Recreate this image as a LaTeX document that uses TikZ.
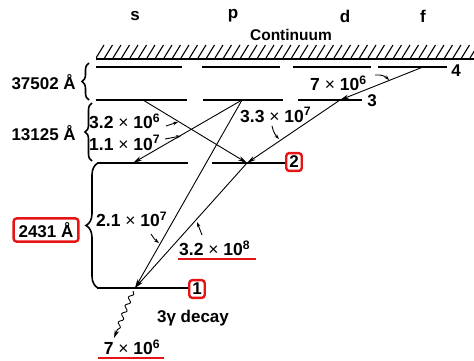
\documentclass[tikz,border=0pt]{standalone}
\usepackage{fontspec}
\setmainfont{Liberation Sans}
\usetikzlibrary{arrows.meta,decorations.pathmorphing,decorations.pathreplacing}
\definecolor{boxred}{RGB}{230,20,20}
\newcommand{\tms}{{\mdseries\ ×\ }}
\begin{document}
\begin{tikzpicture}[x=1pt,y=-1pt,
  every node/.style={font=\fontsize{17}{20}\selectfont\bfseries, inner sep=0pt},
  rate/.style={font=\fontsize{17.5}{20}\selectfont\bfseries},
  level/.style={line width=1.8pt},
  trans/.style={line width=0.9pt,-{Stealth[length=9pt,width=4.5pt]}},
  pointer/.style={line width=0.9pt,-{Stealth[length=5pt,width=3.5pt]}},
  redbox/.style={draw=boxred, line width=2.4pt, rounded corners=3pt, inner sep=3pt, fill=white},
  redline/.style={draw=boxred, line width=2.2pt},
  bracedeco/.style={decorate, line width=1.6pt}
]
\useasboundingbox (0,0) rectangle (474,360);

% column labels
\node (cs) at (135,16) {s};
\node (cp) at (233,16) {p};
\node (cd) at (345,16) {d};
\node (cf) at (423,16) {f};
\node[font=\fontsize{15.5}{18}\selectfont\bfseries] (cont) at (291,35) {Continuum};

% continuum hatch
\begin{scope}
\clip (96,42) rectangle (474,60);
\foreach \hx in {96,104.5,...,480} {
  \draw[line width=1.1pt] (\hx,58) -- (\hx+8,45);
}
\end{scope}
\coordinate (hl) at (96,59);
\coordinate (hr) at (474,59);
\draw[line width=2pt] (hl) -- (hr);

% levels n=4
\coordinate (s4a) at (96,67); \coordinate (s4b) at (182,67);
\coordinate (p4a) at (202,67); \coordinate (p4b) at (280,67);
\coordinate (d4a) at (293,67); \coordinate (d4b) at (371,67);
\coordinate (f4a) at (378,67); \coordinate (f4b) at (447,67);
\draw[level] (s4a) -- (s4b);
\draw[level] (p4a) -- (p4b);
\draw[level] (d4a) -- (d4b);
\draw[level] (f4a) -- (f4b);
\node (n4) at (456,71) {4};

% levels n=3
\coordinate (s3a) at (96,100); \coordinate (s3b) at (187,100);
\coordinate (p3a) at (203,100); \coordinate (p3b) at (283,100);
\coordinate (d3a) at (298,100); \coordinate (d3b) at (362,100);
\draw[level] (s3a) -- (s3b);
\draw[level] (p3a) -- (p3b);
\draw[level] (d3a) -- (d3b);
\node (n3) at (372,101) {3};

% levels n=2
\coordinate (s2a) at (97,163); \coordinate (s2b) at (188,163);
\coordinate (p2a) at (212,163); \coordinate (p2b) at (286,163);
\draw[level] (s2a) -- (s2b);
\draw[level] (p2a) -- (p2b);
\node[redbox] (n2) at (294,162) {2};

% level n=1
\coordinate (s1a) at (97,288); \coordinate (s1b) at (189,288);
\draw[level] (s1a) -- (s1b);
\node[redbox] (n1) at (197,289) {1};

% braces
\coordinate (b1a) at (89,100); \coordinate (b1b) at (89,63);
\draw[bracedeco, decoration={brace, amplitude=7pt}] (b1a) -- (b1b);
\coordinate (b2a) at (92,161); \coordinate (b2b) at (92,103);
\draw[bracedeco, decoration={brace, amplitude=7pt}] (b2a) -- (b2b);
\coordinate (b3a) at (98,288); \coordinate (b3b) at (98,163);
\draw[bracedeco, decoration={brace, amplitude=12pt}] (b3a) -- (b3b);

\node[anchor=east] (w1) at (76,82) {37502 Å};
\node[anchor=east] (w2) at (76,133) {13125 Å};
\node[redbox, inner xsep=5pt, inner ysep=4pt] (w3) at (46,230) {2431 Å};

% transition points
\coordinate (s3) at (143,100);
\coordinate (p3) at (242,100);
\coordinate (s2) at (133,163);
\coordinate (p2) at (247,163);
\coordinate (s1) at (135,288);
\coordinate (f4) at (423,67);
\coordinate (d3) at (340,100);
\coordinate (w) at (114,338);
\coordinate (s1w) at (133,291);

\draw[trans] (s3) -- (p2);
\draw[trans] (p3) -- (s2);
\draw[trans] (p3) -- (s1);
\draw[trans] (f4) -- (d3);
\draw[trans] (d3) -- (p2);
\draw[trans] (p2) -- (s1);
\draw[line width=0.9pt,-{Stealth[length=8pt,width=4.5pt]}, decorate,
  decoration={snake, amplitude=2pt, segment length=9pt, post length=9pt}] (s1w) -- (w);

% rate labels
\node[rate, anchor=west] (r1) at (89,121) {3.2\tms 10\textsuperscript{6}};
\node[rate, anchor=west] (r2) at (89,143) {1.1\tms 10\textsuperscript{7}};
\coordinate (r1t) at (166,126); \coordinate (r1h) at (178,122);
\draw[pointer] (r1t) -- (r1h);
\coordinate (r2t) at (165,139); \coordinate (r2h) at (181,136);
\draw[pointer] (r2t) -- (r2h);

\node[rate, anchor=west] (r3) at (240,115) {3.3\tms 10\textsuperscript{7}};
\coordinate (r3t) at (272,126); \coordinate (r3h) at (279,139);
\draw[pointer] (r3t) to[bend right=15] (r3h);

\node[rate, anchor=west] (r4) at (310,83) {7\tms 10\textsuperscript{6}};
\coordinate (r4t) at (375,75); \coordinate (r4h) at (389,80);
\draw[pointer] (r4t) to[bend left=25] (r4h);

\node[rate, anchor=west] (r5) at (96,219) {2.1\tms 10\textsuperscript{7}};
\coordinate (r5t) at (151,234); \coordinate (r5h) at (159,243);
\draw[pointer] (r5t) to[bend right=10] (r5h);

\node[rate, anchor=west] (r6) at (179,248) {3.2\tms 10\textsuperscript{8}};
\coordinate (r6t) at (202,235); \coordinate (r6h) at (197,222);
\draw[pointer] (r6t) -- (r6h);
\coordinate (u1a) at (178,259); \coordinate (u1b) at (256,259);
\draw[redline] (u1a) -- (u1b);

\node (dec) at (193,318) {3γ decay};
\node[rate] (r7) at (132,347) {7\tms 10\textsuperscript{6}};
\coordinate (u2a) at (98,358); \coordinate (u2b) at (164,358);
\draw[redline] (u2a) -- (u2b);
\end{tikzpicture}
\end{document}
